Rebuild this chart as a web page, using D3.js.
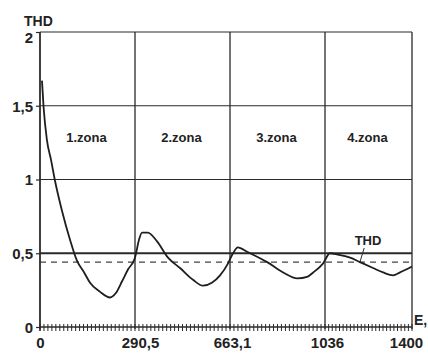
<!DOCTYPE html>
<html>
<head>
<meta charset="utf-8">
<script src="https://cdn.jsdelivr.net/npm/d3@7"></script>
<style>
  body { margin: 0; background: #fff; }
  svg { display: block; font-family: "Liberation Sans", Arial, sans-serif; }
</style>
</head>
<body>
<div id="chart"></div>
<script>
// x axis labels (zone boundaries, E)
const xTicks = [0, 290.5, 663.1, 1036, 1400];
const yTicks = [0, 0.5, 1, 1.5, 2];
const zoneNames = ["1.zona", "2.zona", "3.zona", "4.zona"];
const meanLevel = 0.44;

// THD curve
const thdE = [6, 11, 21, 34, 46, 67, 92, 113, 135, 153, 183, 214, 232, 251, 269, 290.5,
    306, 318, 341, 377, 420, 467, 518, 557, 592, 624, 655,
    675, 694, 730, 809, 872, 927, 966, 990, 1028,
    1057, 1090, 1141, 1182, 1237, 1279, 1321, 1350, 1400];
const thdV = [1.67, 1.49, 1.27, 1.13, 0.99, 0.79, 0.59, 0.45, 0.37, 0.30, 0.24, 0.20, 0.23, 0.31, 0.39, 0.47,
    0.59, 0.64, 0.64, 0.58, 0.47, 0.40, 0.32, 0.28, 0.30, 0.35, 0.43,
    0.50, 0.54, 0.51, 0.44, 0.37, 0.33, 0.34, 0.37, 0.43,
    0.50, 0.49, 0.47, 0.44, 0.40, 0.37, 0.35, 0.37, 0.41];

const W = 428, H = 354;
const svg = d3.select("#chart").append("svg")
    .attr("width", W).attr("height", H);

// zones are drawn equally wide, so the scale is piecewise
const x = d3.scaleLinear()
    .domain(xTicks)
    .range([40, 135, 230, 325, 412]);
const y = d3.scaleLinear().domain([0, 2]).range([327, 32]);

const ink = "#2a2a2a";
const fmt = d => String(d).replace(".", ",");

// horizontal grid
svg.append("g").selectAll("line")
    .data(yTicks.filter(d => d > 0))
    .enter().append("line")
    .attr("x1", x(0)).attr("x2", x(1400))
    .attr("y1", d => y(d)).attr("y2", d => y(d))
    .attr("stroke", ink)
    .attr("stroke-width", d => d === 0.5 ? 1.8 : 1.2);

// vertical zone lines + borders
svg.append("g").selectAll("line")
    .data(xTicks)
    .enter().append("line")
    .attr("x1", d => x(d)).attr("x2", d => x(d))
    .attr("y1", y(2)).attr("y2", y(0) + 2)
    .attr("stroke", ink)
    .attr("stroke-width", 1.3);

// dashed mean line
svg.append("line")
    .attr("x1", x(0)).attr("x2", x(1400))
    .attr("y1", y(meanLevel)).attr("y2", y(meanLevel))
    .attr("stroke", "#444")
    .attr("stroke-width", 1.2)
    .attr("stroke-dasharray", "6,5");

// bottom axis with dense minor ticks
const minor = [];
for (let i = 0; i < xTicks.length - 1; i++) {
    const a = xTicks[i], b = xTicks[i + 1];
    for (let k = 0; k < 24; k++) minor.push(a + (b - a) * k / 24);
}
minor.push(1400);

svg.append("line")
    .attr("x1", x(0)).attr("x2", x(1400))
    .attr("y1", y(0)).attr("y2", y(0))
    .attr("stroke", ink).attr("stroke-width", 1.4);

svg.append("g").selectAll("line")
    .data(minor)
    .enter().append("line")
    .attr("x1", d => x(d)).attr("x2", d => x(d))
    .attr("y1", y(0) - 3).attr("y2", y(0) + 4)
    .attr("stroke", ink).attr("stroke-width", 1);

const xAxis = svg.append("g")
    .attr("transform", `translate(0, ${y(0)})`)
    .call(d3.axisBottom(x).tickValues(xTicks).tickSize(0).tickPadding(10).tickFormat(fmt));
xAxis.select(".domain").remove();
xAxis.selectAll("text")
    .attr("font-size", 15).attr("font-weight", "bold").attr("fill", "#222")
    .attr("dx", (d, i) => [0, 5, 2, 2, -6][i]);

// left axis
const yAxis = svg.append("g")
    .attr("transform", `translate(${x(0)}, 0)`)
    .call(d3.axisLeft(y).tickValues(yTicks).tickSize(4).tickPadding(3).tickFormat(fmt));
yAxis.select(".domain").attr("stroke", ink).attr("stroke-width", 1.4)
    .attr("d", `M0,${y(2)}V${y(0) + 4}`);
yAxis.selectAll(".tick line").attr("stroke", ink).attr("stroke-width", 1.2);
yAxis.selectAll("text")
    .attr("font-size", 15).attr("font-weight", "bold").attr("fill", "#222")
    .attr("dy", (d, i) => i === 4 ? "0.72em" : "0.35em");

// axis titles
svg.append("text")
    .attr("x", 24).attr("y", 26)
    .attr("font-size", 14).attr("font-weight", "bold").attr("fill", "#222")
    .text("THD");
svg.append("text")
    .attr("x", 414).attr("y", 325)
    .attr("font-size", 14).attr("font-weight", "bold").attr("fill", "#222")
    .text("E,");

// zone labels
svg.append("g").selectAll("text")
    .data(zoneNames)
    .enter().append("text")
    .attr("x", (d, i) => (x(xTicks[i]) + x(xTicks[i + 1])) / 2 - 1)
    .attr("y", 142)
    .attr("text-anchor", "middle")
    .attr("font-size", 13).attr("font-weight", "bold").attr("fill", "#222")
    .text(d => d);

// THD curve
const pts = thdE.map((e, i) => [e, thdV[i]]);
svg.append("path")
    .datum(pts)
    .attr("d", d3.line().x(d => x(d[0])).y(d => y(d[1])).curve(d3.curveMonotoneX))
    .attr("fill", "none")
    .attr("stroke", "#1e1e1e")
    .attr("stroke-width", 1.8);

// curve label with leader line
svg.append("text")
    .attr("x", 368).attr("y", 245)
    .attr("text-anchor", "middle")
    .attr("font-size", 13).attr("font-weight", "bold").attr("fill", "#222")
    .text("THD");
svg.append("line")
    .attr("x1", x(1200)).attr("y1", 248)
    .attr("x2", x(1182)).attr("y2", y(0.44))
    .attr("stroke", ink).attr("stroke-width", 1);
</script>
</body>
</html>
